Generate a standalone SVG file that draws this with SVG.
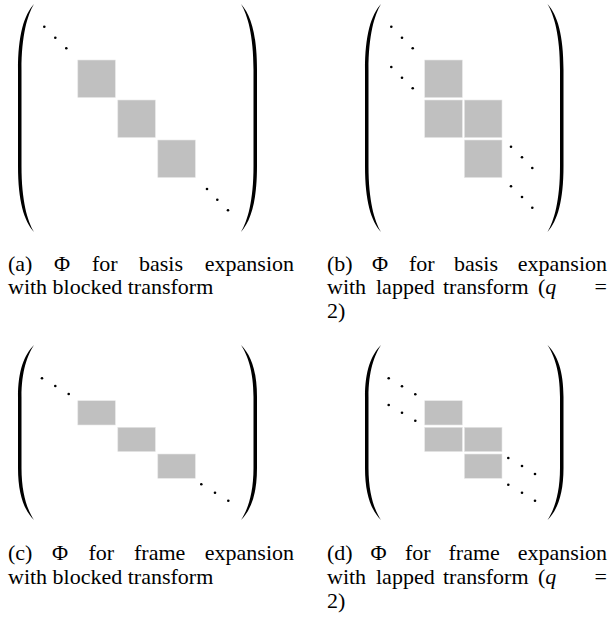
<svg xmlns="http://www.w3.org/2000/svg" width="610" height="623" viewBox="0 0 610 623">
<style>
.blk{fill:#c0c0c0;stroke:#e6e6e6;stroke-width:0.6}
.dot{fill:#000}
.par{fill:#000}
.cap{font-family:"Liberation Serif","Times New Roman","DejaVu Serif",serif;font-size:22px;fill:#000}
.it{font-style:italic}
</style>
<defs>
<path id="lpT" d="M16,0 C6,11 0,31 0,66 L0,162 C0,197 6,217 16,228 C9.5,217 3.5,197 3.5,162 L3.5,66 C3.5,31 9.5,11 16,0 Z"/>
<path id="rpT" d="M0,0 C10,11 16,31 16,66 L16,162 C16,197 10,217 0,228 C6.5,217 12.5,197 12.5,162 L12.5,66 C12.5,31 6.5,11 0,0 Z"/>
<path id="lpS" d="M16,0 C6,10 0,26 0,52 L0,123 C0,149 6,165 16,175 C9.5,165 3.5,149 3.5,123 L3.5,52 C3.5,26 9.5,10 16,0 Z"/>
<path id="rpS" d="M0,0 C10,10 16,26 16,52 L16,123 C16,149 10,165 0,175 C6.5,165 12.5,149 12.5,123 L12.5,52 C12.5,26 6.5,10 0,0 Z"/>
</defs>

<g id="panel-a">
<use href="#lpT" x="18" y="4" class="par"/>
<use href="#rpT" x="241" y="4" class="par"/>
<circle class="dot" cx="44.3" cy="26.7" r="1.3"/>
<circle class="dot" cx="55.3" cy="37.7" r="1.3"/>
<circle class="dot" cx="66.3" cy="48.3" r="1.3"/>
<rect class="blk" x="77.8" y="60" width="37.5" height="37.5"/>
<rect class="blk" x="117.8" y="100" width="37.5" height="37.5"/>
<rect class="blk" x="157.8" y="140" width="37.5" height="37.5"/>
<circle class="dot" cx="207" cy="189" r="1.3"/>
<circle class="dot" cx="217.3" cy="199.7" r="1.3"/>
<circle class="dot" cx="228" cy="210.3" r="1.3"/>
<text class="cap" y="270.5"><tspan x="8">(a)</tspan><tspan x="54">Φ</tspan><tspan x="92">for</tspan><tspan x="139">basis</tspan></text>
<text class="cap" x="294" y="270.5" text-anchor="end">expansion</text>
<text class="cap" x="8" y="294">with blocked transform</text>
</g>

<g id="panel-b">
<use href="#lpT" x="365" y="4" class="par"/>
<use href="#rpT" x="547.5" y="4" class="par"/>
<circle class="dot" cx="391.3" cy="26.7" r="1.3"/>
<circle class="dot" cx="402" cy="37.7" r="1.3"/>
<circle class="dot" cx="412.7" cy="48.3" r="1.3"/>
<circle class="dot" cx="391.3" cy="67" r="1.3"/>
<circle class="dot" cx="402" cy="77.7" r="1.3"/>
<circle class="dot" cx="412.7" cy="88.3" r="1.3"/>
<rect class="blk" x="424.7" y="60" width="37.6" height="37.6"/>
<rect class="blk" x="424.7" y="100" width="37.6" height="37.6"/>
<rect class="blk" x="464.4" y="100" width="37.6" height="37.6"/>
<rect class="blk" x="464.4" y="140" width="37.6" height="37.6"/>
<circle class="dot" cx="511" cy="146.7" r="1.3"/>
<circle class="dot" cx="522" cy="157.3" r="1.3"/>
<circle class="dot" cx="532.3" cy="168" r="1.3"/>
<circle class="dot" cx="511" cy="186.3" r="1.3"/>
<circle class="dot" cx="522" cy="197" r="1.3"/>
<circle class="dot" cx="532.3" cy="207.7" r="1.3"/>
<text class="cap" y="270.5"><tspan x="327">(b)</tspan><tspan x="372">Φ</tspan><tspan x="409">for</tspan><tspan x="454">basis</tspan></text>
<text class="cap" x="607" y="270.5" text-anchor="end">expansion</text>
<text class="cap" y="294"><tspan x="327">with</tspan><tspan x="376">lapped</tspan><tspan x="443">transform</tspan><tspan x="538">(</tspan><tspan class="it">q</tspan></text>
<text class="cap" x="607" y="294" text-anchor="end">=</text>
<text class="cap" x="327" y="318">2)</text>
</g>

<g id="panel-c">
<use href="#lpS" x="18" y="345" class="par"/>
<use href="#rpS" x="241" y="345" class="par"/>
<circle class="dot" cx="42" cy="378.3" r="1.3"/>
<circle class="dot" cx="55.3" cy="386" r="1.3"/>
<circle class="dot" cx="68.7" cy="394" r="1.3"/>
<rect class="blk" x="77.8" y="400.7" width="37.5" height="24.3"/>
<rect class="blk" x="117.8" y="427.3" width="37.5" height="24.3"/>
<rect class="blk" x="157.8" y="454" width="37.5" height="24.3"/>
<circle class="dot" cx="201.3" cy="484.3" r="1.3"/>
<circle class="dot" cx="215" cy="492.7" r="1.3"/>
<circle class="dot" cx="228.3" cy="500.7" r="1.3"/>
<text class="cap" y="560"><tspan x="8">(c)</tspan><tspan x="52">Φ</tspan><tspan x="88.5">for</tspan><tspan x="134">frame</tspan></text>
<text class="cap" x="294" y="560" text-anchor="end">expansion</text>
<text class="cap" x="8" y="583.5">with blocked transform</text>
</g>

<g id="panel-d">
<use href="#lpS" x="365" y="345" class="par"/>
<use href="#rpS" x="547.5" y="345" class="par"/>
<circle class="dot" cx="388.7" cy="378.3" r="1.3"/>
<circle class="dot" cx="402" cy="386.3" r="1.3"/>
<circle class="dot" cx="415.3" cy="394.3" r="1.3"/>
<circle class="dot" cx="388.7" cy="405" r="1.3"/>
<circle class="dot" cx="402" cy="412.7" r="1.3"/>
<circle class="dot" cx="415.3" cy="420.7" r="1.3"/>
<rect class="blk" x="424.7" y="400.7" width="37.6" height="24.3"/>
<rect class="blk" x="424.7" y="427.3" width="37.6" height="24.3"/>
<rect class="blk" x="464.4" y="427.3" width="37.6" height="24.3"/>
<rect class="blk" x="464.4" y="454" width="37.6" height="24.3"/>
<circle class="dot" cx="508.3" cy="458" r="1.3"/>
<circle class="dot" cx="522" cy="466" r="1.3"/>
<circle class="dot" cx="535" cy="474" r="1.3"/>
<circle class="dot" cx="508.3" cy="484.7" r="1.3"/>
<circle class="dot" cx="522" cy="492.7" r="1.3"/>
<circle class="dot" cx="535" cy="500.7" r="1.3"/>
<text class="cap" y="560"><tspan x="327">(d)</tspan><tspan x="370.5">Φ</tspan><tspan x="405">for</tspan><tspan x="448.5">frame</tspan></text>
<text class="cap" x="607" y="560" text-anchor="end">expansion</text>
<text class="cap" y="583.5"><tspan x="327">with</tspan><tspan x="376">lapped</tspan><tspan x="443">transform</tspan><tspan x="538">(</tspan><tspan class="it">q</tspan></text>
<text class="cap" x="607" y="583.5" text-anchor="end">=</text>
<text class="cap" x="327" y="607.5">2)</text>
</g>
</svg>
